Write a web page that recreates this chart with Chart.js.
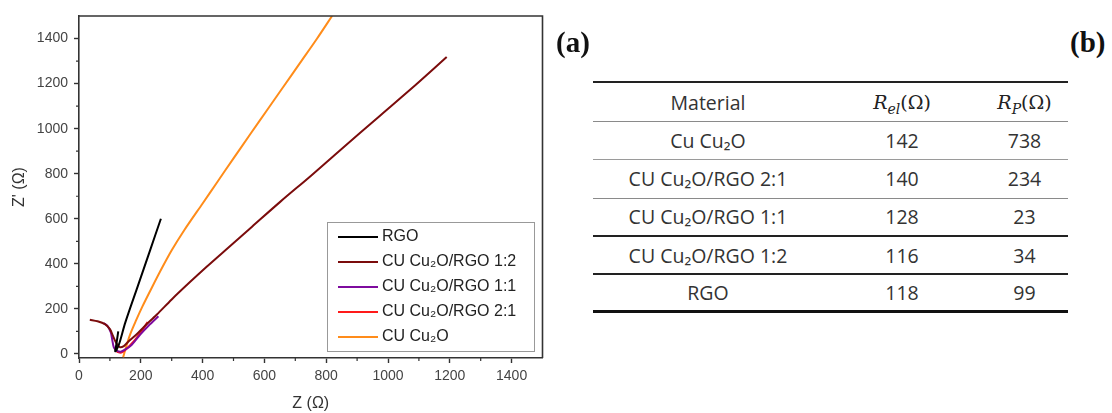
<!DOCTYPE html>
<html>
<head>
<meta charset="utf-8">
<script src="https://cdn.jsdelivr.net/npm/chart.js@4.4.1/dist/chart.umd.min.js"></script>
<style>
  body { margin: 0; background: #fff; width: 1112px; height: 413px; position: relative; overflow: hidden; }
  #wrap { position: absolute; left: 0; top: 0; width: 565px; height: 413px; }
  .tag { position: absolute; top: 26px; font: bold 29px "Liberation Serif", serif; color: #111; }
  #tbl { position: absolute; left: 593px; top: 81px; width: 475px; font-family: "Open Sans", sans-serif; font-size: 19.5px; color: #333; }
  .row { display: flex; align-items: center; box-sizing: border-box; height: 38.3px; }
  .row div { text-align: center; }
  .m { font-family: "DejaVu Serif", serif; font-size: 19px; color: #222; }
  .m sub { font-size: 14px; }
</style>
</head>
<body>
<div id="wrap"><canvas id="nyquist" width="565" height="413"></canvas></div>
<div class="tag" style="left:556px">(a)</div>
<div class="tag" style="left:1070px">(b)</div>
<div id="tbl"></div>

<script>
// series (Z, Z'')
const seriesNames = ['RGO', 'CU Cu₂O/RGO 1:2', 'CU Cu₂O/RGO 1:1', 'CU Cu₂O/RGO 2:1', 'CU Cu₂O'];
const seriesColors = ['#000000', '#7b0c0c', '#7e0b9e', '#ff1a1a', '#ff8c1a'];

const rgoZ  = [127, 123, 119, 117, 120, 130, 150, 190, 230, 265];
const rgoZi = [100, 62, 28, 12, 14, 45, 140, 300, 460, 600];

const r12Z  = [35, 60, 84, 100, 110, 120, 132, 145, 160, 185, 210, 252, 300, 360, 414, 470, 560, 651, 750, 846, 976, 1090, 1190];
const r12Zi = [152, 145, 132, 110, 80, 50, 30, 35, 55, 85, 120, 175, 242, 320, 388, 456, 565, 675, 790, 905, 1060, 1195, 1318];

const r11Z  = [79, 92, 103, 108, 113, 122, 135, 150, 170, 198, 225, 257];
const r11Zi = [137, 125, 95, 60, 28, 15, 10, 20, 40, 86, 125, 167];

const r21Z  = [122, 135, 150, 165, 180, 198, 210, 222];
const r21Zi = [10, 5, 18, 38, 60, 93, 115, 142];

const cuoZ  = [143, 150, 165, 185, 205, 236, 268, 300, 340, 400, 446, 500, 554, 610, 662, 716, 770, 819];
const cuoZi = [-15, 20, 85, 150, 210, 295, 380, 460, 548, 668, 760, 868, 975, 1085, 1187, 1293, 1399, 1500];

const seriesZ  = [rgoZ, r12Z, r11Z, r21Z, cuoZ];
const seriesZi = [rgoZi, r12Zi, r11Zi, r21Zi, cuoZi];

// table (b)
const tableHeads = ['Material', '<span class="m"><i>R</i><sub><i>el</i></sub>(Ω)</span>', '<span class="m"><i>R</i><sub><i>P</i></sub>(Ω)</span>'];
const materials = ['Cu Cu₂O', 'CU Cu₂O/RGO 2:1', 'CU Cu₂O/RGO 1:1', 'CU Cu₂O/RGO 1:2', 'RGO'];
const relValues = [142, 140, 128, 116, 118];
const rpValues = [738, 234, 23, 34, 99];

/* Table */
const colW = [230, 158, 87];
const rowLines = ['1.5px solid #8a8a8a', '1.5px solid #9a9a9a', '1.5px solid #8a8a8a', '2px solid #222', '2px solid #222', '3px solid #111'];
const tbl = document.getElementById('tbl');
function addRow(cells, i, h) {
    const row = document.createElement('div');
    row.className = 'row';
    row.style.borderBottom = rowLines[i];
    if (i === 0) row.style.borderTop = '2px solid #222';
    if (h) row.style.height = h + 'px';
    cells.forEach((c, k) => {
        const d = document.createElement('div');
        d.style.width = colW[k] + 'px';
        d.innerHTML = c;
        row.appendChild(d);
    });
    tbl.appendChild(row);
}
addRow(tableHeads, 0, 41);
for (let i = 0; i < materials.length; i++) {
    addRow([materials[i], relValues[i], rpValues[i]], i + 1);
}

/* Frame, minor ticks */
const framePlugin = {
    id: 'frame',
    afterDraw(chart) {
        const {ctx, chartArea: a, scales} = chart;
        ctx.save();
        ctx.strokeStyle = '#333';
        ctx.lineWidth = 1.6;
        ctx.beginPath();
        ctx.moveTo(a.left, a.top);
        ctx.lineTo(a.right, a.top);
        ctx.lineTo(a.right, a.bottom);
        ctx.stroke();

        ctx.lineWidth = 1.2;
        ctx.beginPath();
        scales.x.ticks.forEach(t => {
            const v = t.value + 100;
            if (v < scales.x.max) {
                const px = scales.x.getPixelForValue(v);
                ctx.moveTo(px, a.bottom);
                ctx.lineTo(px, a.bottom + 3);
            }
        });
        scales.y.ticks.forEach(t => {
            const v = t.value + 100;
            if (v < scales.y.max) {
                const py = scales.y.getPixelForValue(v);
                ctx.moveTo(a.left, py);
                ctx.lineTo(a.left - 3, py);
            }
        });
        ctx.stroke();
        ctx.restore();
    }
};

/* Legend in the plot */
const boxLegend = {
    id: 'boxLegend',
    afterDraw(chart) {
        const {ctx, chartArea: a} = chart;
        const sets = chart.data.datasets;
        const w = 207, rowH = 25, h = 129;
        const x0 = a.right - 8.5 - w, y0 = a.bottom - 7 - h;
        ctx.save();
        ctx.fillStyle = '#fff';
        ctx.fillRect(x0, y0, w, h);
        ctx.strokeStyle = '#999';
        ctx.lineWidth = 1;
        ctx.strokeRect(x0 + 0.5, y0 + 0.5, w, h);
        ctx.font = '16px "Liberation Sans", Arial, sans-serif';
        ctx.textBaseline = 'middle';
        sets.forEach((ds, i) => {
            const y = y0 + 15 + i * rowH;
            ctx.strokeStyle = ds.borderColor;
            ctx.lineWidth = 2.2;
            ctx.beginPath();
            ctx.moveTo(x0 + 11, y);
            ctx.lineTo(x0 + 51, y);
            ctx.stroke();
            ctx.fillStyle = '#222';
            ctx.fillText(ds.label, x0 + 55, y);
        });
        ctx.restore();
    }
};

const datasets = seriesNames.map((name, i) => ({
    label: name,
    data: seriesZ[i].map((z, k) => ({x: z, y: seriesZi[i][k]})),
    borderColor: seriesColors[i],
    backgroundColor: seriesColors[i],
    borderWidth: 2,
    pointRadius: 0,
    showLine: true,
    tension: 0.3
}));

const tickFont = {family: 'Liberation Sans', size: 14};

const ctx = document.getElementById('nyquist').getContext('2d');
const myChart = new Chart(ctx, {
    type: 'scatter',
    data: {datasets: datasets},
    plugins: [framePlugin, boxLegend],
    options: {
        responsive: false,
        animation: false,
        devicePixelRatio: 1,
        layout: {padding: {top: 16, right: 22.5, left: 0, bottom: 0}},
        scales: {
            x: {
                type: 'linear',
                min: 0,
                max: 1500,
                afterFit: s => { s.height = 55; },
                border: {display: true, color: '#333', width: 1.6},
                grid: {drawOnChartArea: false, drawTicks: true, tickLength: 5, tickColor: '#333', tickWidth: 1.4},
                ticks: {stepSize: 200, includeBounds: false, padding: 5, color: '#444', font: tickFont, maxRotation: 0,
                        callback: v => String(v)},
                title: {display: true, text: 'Z (Ω)', color: '#333', padding: {top: 0, bottom: 0},
                        font: {family: 'Liberation Sans', size: 16}}
            },
            y: {
                type: 'linear',
                min: -18,
                max: 1500,
                afterFit: s => { s.width = 79; },
                border: {display: true, color: '#333', width: 1.6},
                grid: {drawOnChartArea: false, drawTicks: true, tickLength: 5, tickColor: '#333', tickWidth: 1.4},
                ticks: {stepSize: 200, includeBounds: false, padding: 6, color: '#444', font: tickFont,
                        callback: v => String(v)},
                title: {display: true, text: "Z' (Ω)", color: '#333', padding: {top: 10, bottom: 0},
                        font: {family: 'Liberation Sans', size: 16}}
            }
        },
        plugins: {
            legend: {display: false},
            tooltip: {enabled: false}
        }
    }
});
</script>
</body>
</html>
